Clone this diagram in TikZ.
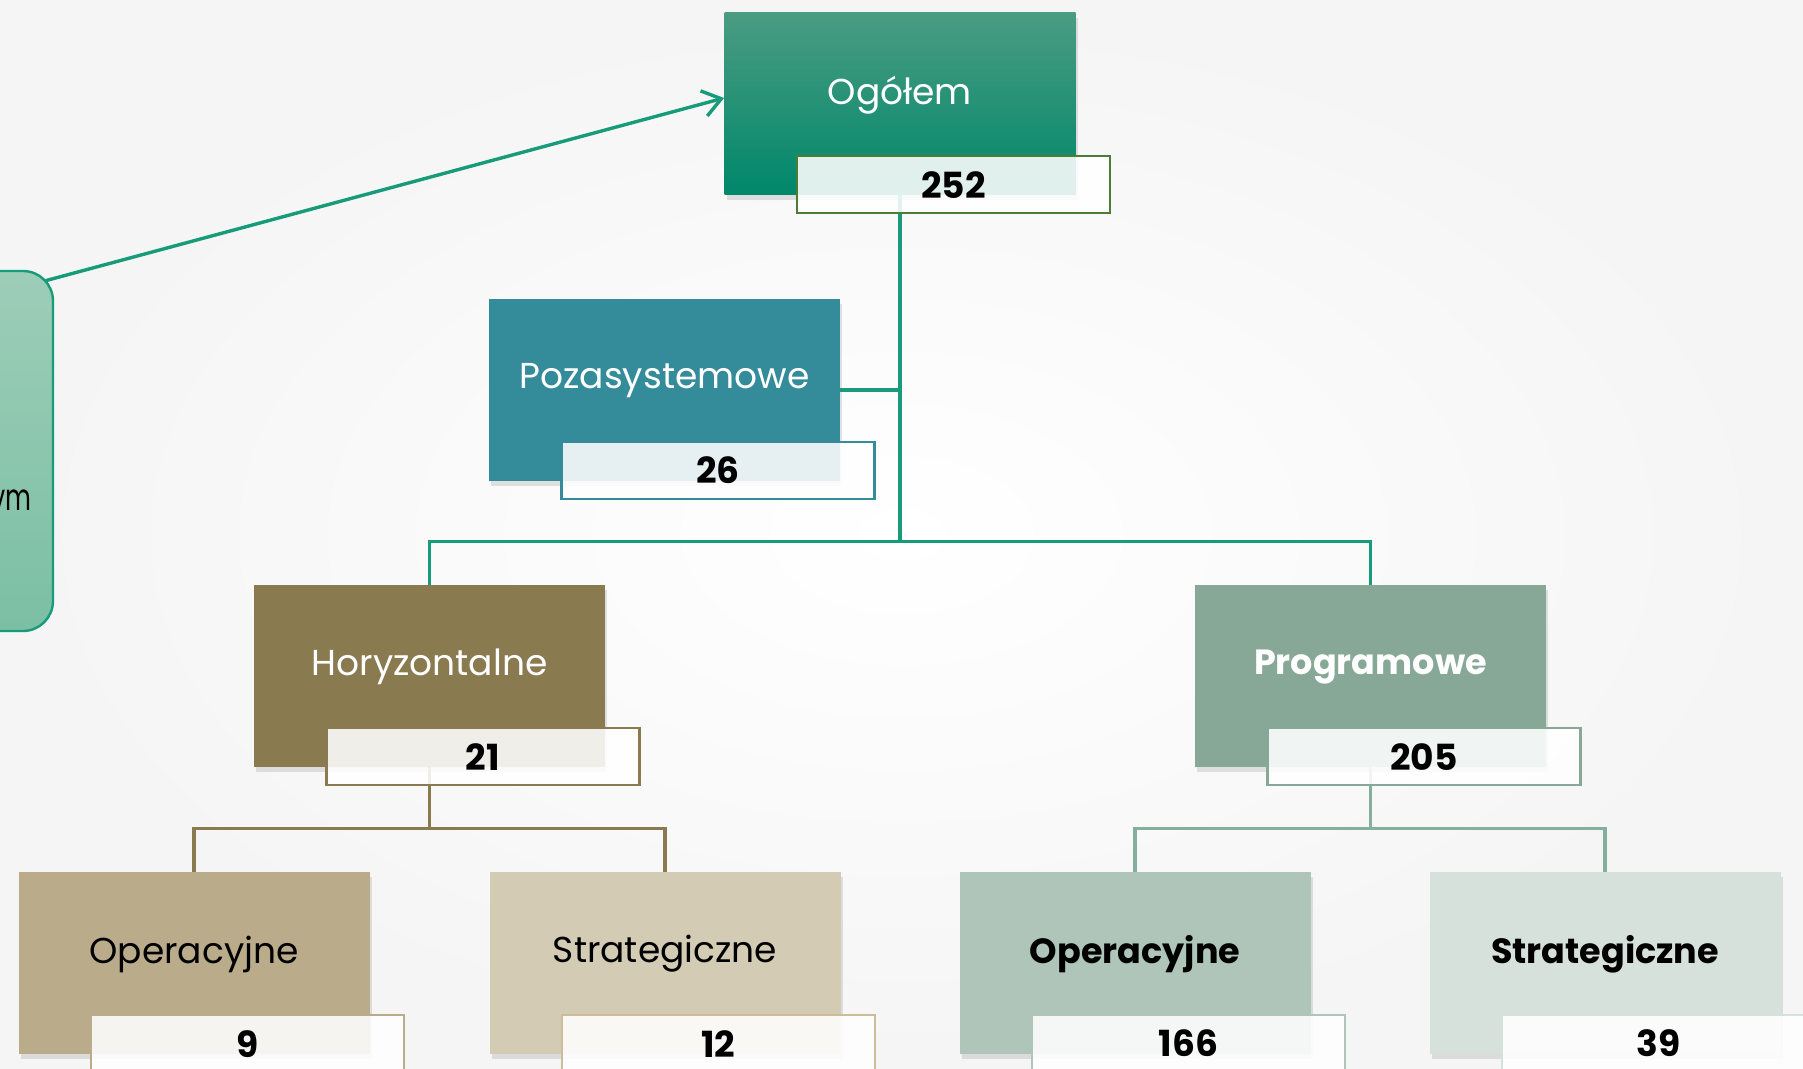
\documentclass[tikz,border=0pt]{standalone}
\usepackage{fontspec}
\setmainfont{Poppins}
\usetikzlibrary{arrows.meta,shadows,positioning}

\definecolor{treeline}{HTML}{179B7A}
\definecolor{ogolemtop}{HTML}{4A9C82}
\definecolor{ogolembot}{HTML}{00876A}
\definecolor{ogolemedge}{HTML}{4B7E34}
\definecolor{pozafill}{HTML}{348B9A}
\definecolor{horyzfill}{HTML}{8A7A50}
\definecolor{progfill}{HTML}{87A897}
\definecolor{proglink}{HTML}{84AE9D}
\definecolor{hopfill}{HTML}{BAAC8B}
\definecolor{hstfill}{HTML}{D4CBB4}
\definecolor{hstedge}{HTML}{CBBD9A}
\definecolor{popfill}{HTML}{AFC5B9}
\definecolor{pstfill}{HTML}{D6E1DC}
\definecolor{sidetop}{HTML}{9DCDB8}
\definecolor{sidebot}{HTML}{7BBFA4}

\tikzset{
  unit/.style={rectangle, minimum width=175.5pt, minimum height=91pt, inner sep=0pt,
    drop shadow={shadow xshift=1pt, shadow yshift=-2.5pt, opacity=0.22}},
  numbox/.style={rectangle, draw=#1, line width=1.2pt, fill=white, fill opacity=0.88,
    text opacity=1, minimum width=156.5pt, minimum height=28.5pt, inner sep=0pt,
    anchor=north west, font=\fontsize{18}{22}\selectfont\bfseries},
  caption/.style={yshift=4.5pt, font=\fontsize{18}{22}\selectfont},
  lighttext/.style={text=white},
  lightbold/.style={text=white, font=\fontsize{17.5}{21}\selectfont\bfseries},
  darktext/.style={text=black},
  darkbold/.style={text=black, font=\fontsize{17.5}{21}\selectfont\bfseries},
  link/.style={line width=1.7pt}
}

\begin{document}
\begin{tikzpicture}[x=0.5pt, y=-0.5pt]

\useasboundingbox (0,0) rectangle (1803,1069);
\shade[inner color=white, outer color=black!4] (0,0) rectangle (1803,1069);
\clip (0,0) rectangle (1803,1069);

% side box, only its right edge shows
\node[rectangle, rounded corners=15pt, draw=treeline, line width=1.2pt,
  top color=sidetop, bottom color=sidebot,
  minimum width=200pt, minimum height=180pt] (side) at (-147,451) {};
\node[anchor=base east, inner sep=0pt, font=\fontsize{18.5}{22}\selectfont]
  (side-t) at (32,510) {\scalebox{0.68}[1]{ym}};

% boxes
\node[unit, top color=ogolemtop, bottom color=ogolembot] (ogolem) at (900,104) {};
\node[caption, lighttext] (ogolem-t) at (ogolem) {Ogółem};

\foreach \n/\x/\y/\col/\txt/\tst in {
  pozasys/664.5/390/pozafill/Pozasystemowe/lighttext,
  horyz/429.5/676/horyzfill/Horyzontalne/lighttext,
  program/1370.5/676/progfill/Programowe/lightbold,
  hop/194/963/hopfill/Operacyjne/darktext,
  hst/665/963/hstfill/Strategiczne/darktext,
  pop/1135/963/popfill/Operacyjne/darkbold,
  pst/1605/963/pstfill/Strategiczne/darkbold}
{
  \node[unit, fill=\col] (\n) at (\x,\y) {};
  \node[caption, \tst] (\n-t) at (\n) {\txt};
}

% links
\coordinate[yshift=21.5pt] (tsplit) at (ogolem.south |- horyz.north);
\draw[link, treeline] (ogolem.south) -- (tsplit);
\draw[link, treeline] (pozasys.east) -- (pozasys.east -| ogolem.south);
\draw[link, treeline] (horyz.north) |- (tsplit) -| (program.north);

\coordinate[yshift=21.5pt] (hsplit) at (horyz.south |- hop.north);
\draw[link, horyzfill] (horyz.south) -- (hsplit);
\draw[link, horyzfill] (hop.north) |- (hsplit) -| (hst.north);

\coordinate[yshift=21.5pt] (psplit) at (program.south |- pop.north);
\draw[link, proglink] (program.south) -- (psplit);
\draw[link, proglink] (pop.north) |- (psplit) -| (pst.north);

% counts
\foreach \n/\num/\col in {ogolem/252/ogolemedge, pozasys/26/pozafill,
  horyz/21/horyzfill, program/205/progfill, hop/9/hopfill,
  hst/12/hstedge, pop/166/popfill, pst/39/pstfill}
  \node[numbox=\col] (\n-num) at ([xshift=35.75pt, yshift=20.25pt]\n.south west) {\num};

\draw[link, treeline, -{Straight Barb[length=9pt, width=13pt]}]
  ([xshift=-4.5pt, yshift=-5.5pt]side.north east) -- ([yshift=3pt]ogolem.west);

\end{tikzpicture}
\end{document}
